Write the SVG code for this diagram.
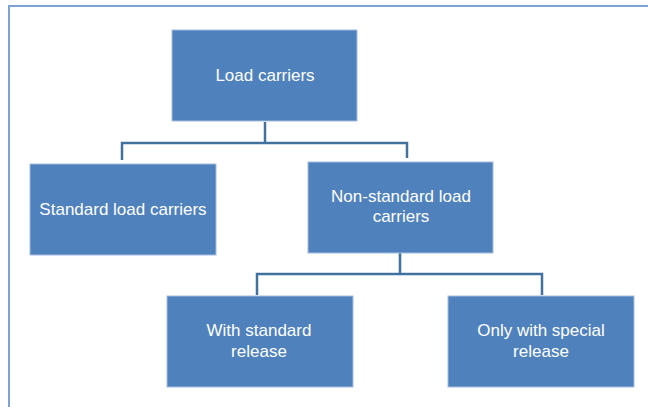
<svg xmlns="http://www.w3.org/2000/svg" width="648" height="407" viewBox="0 0 648 407">
<style>
.box{fill:#4f81bd;stroke:#a6bddc;stroke-width:1}
.t{font-family:"Liberation Sans",Arial,sans-serif;font-size:17px;fill:#ffffff;text-anchor:middle}
.c{fill:none;stroke:#41719c;stroke-width:2.5}
</style>
<rect width="648" height="407" fill="#ffffff"/>
<rect x="9" y="6" width="660" height="420" fill="none" stroke="#7ea2d6" stroke-width="2"/>
<g id="connectors">
<path class="c" d="M265 122V143M122 160V143H407V158"/>
<path class="c" d="M400 253V274M257 295V274H542V295"/>
</g>
<g id="n-load"><rect class="box" x="172" y="30" width="185" height="91"/><text class="t" x="265" y="81">Load carriers</text></g>
<g id="n-standard"><rect class="box" x="30" y="164" width="186" height="91"/><text class="t" x="123" y="215">Standard load carriers</text></g>
<g id="n-nonstandard"><rect class="box" x="308" y="162" width="185" height="91"/><text class="t" x="401" y="202">Non-standard load</text><text class="t" x="401" y="222">carriers</text></g>
<g id="n-with"><rect class="box" x="167" y="296" width="186" height="91"/><text class="t" x="259" y="336">With standard</text><text class="t" x="259" y="357">release</text></g>
<g id="n-only"><rect class="box" x="448" y="296" width="186" height="91"/><text class="t" x="541" y="336">Only with special</text><text class="t" x="541" y="357">release</text></g>
</svg>
